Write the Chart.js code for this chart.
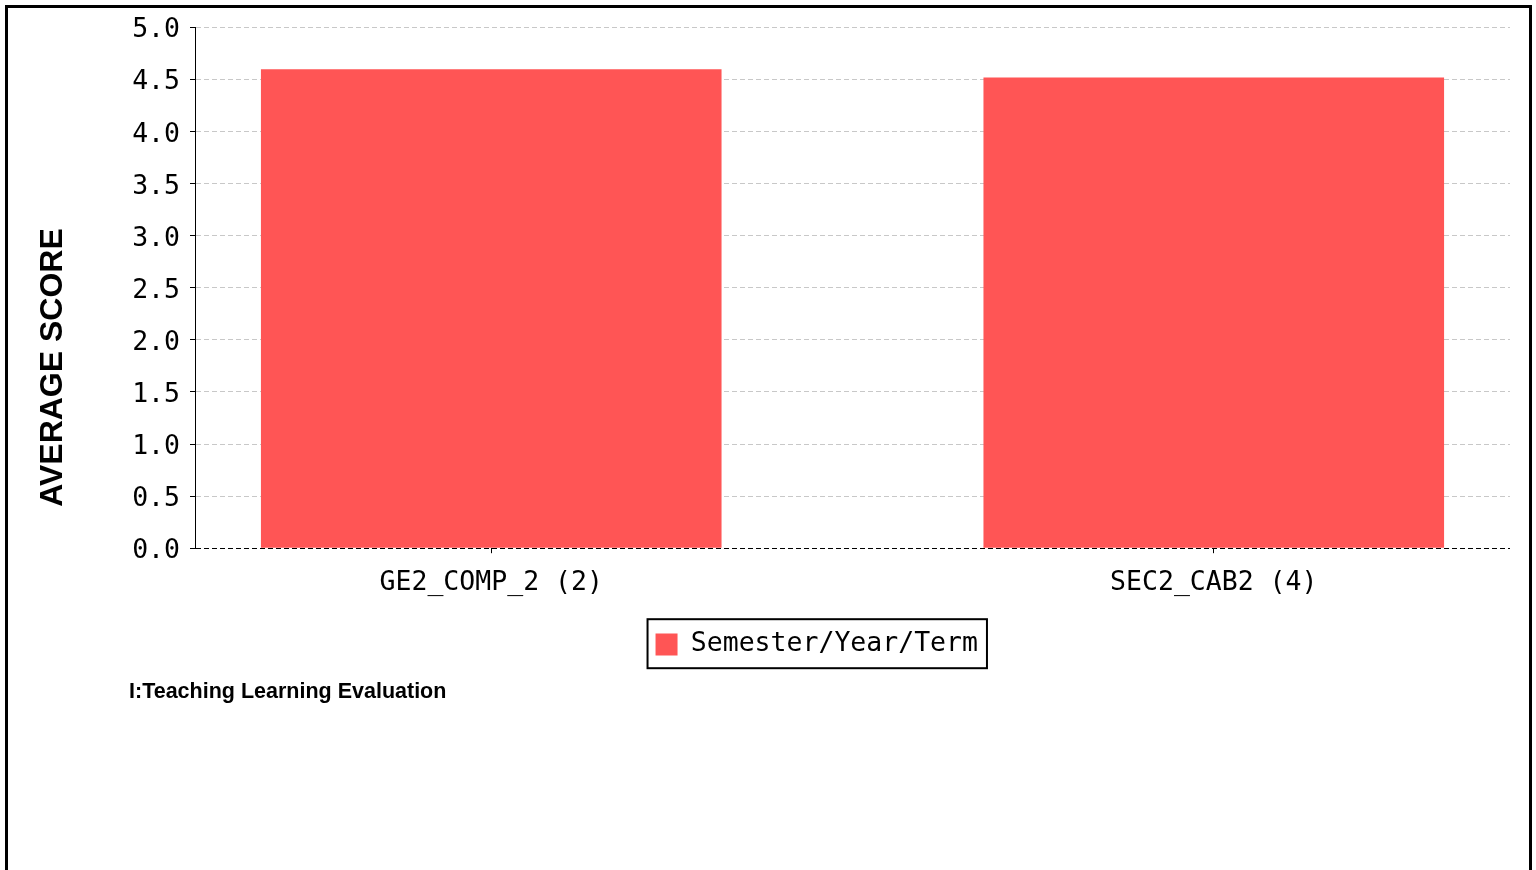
<!DOCTYPE html>
<html>
<head>
<meta charset="utf-8">
<script src="https://cdn.jsdelivr.net/npm/chart.js@4/dist/chart.umd.min.js"></script>
<style>
  html, body { margin: 0; padding: 0; background: #fff; }
  #frame { position: absolute; left: 5px; top: 5px; width: 1527px; height: 900px; box-sizing: border-box; border: 3px solid #000; background: #fff; }
  #wrap { position: absolute; left: 8px; top: 8px; width: 1520px; height: 700px; }
</style>
</head>
<body>
<div id="frame"></div>
<div id="wrap"><canvas id="c"></canvas></div>
<script>
const categories = ['GE2_COMP_2 (2)', 'SEC2_CAB2 (4)'];
const scores = [4.6, 4.52];
const seriesLabel = 'Semester/Year/Term';
const yTicks = [0, 0.5, 1.0, 1.5, 2.0, 2.5, 3.0, 3.5, 4.0, 4.5, 5.0];
const yAxisTitle = 'AVERAGE SCORE';
const chartTitle = 'I:Teaching Learning Evaluation';

const MONO = '"DejaVu Sans Mono", monospace';
const SANS = '"Liberation Sans", Arial, sans-serif';

const layoutTweaks = {
  id: 'layoutTweaks',
  afterLayout(chart) {
    const lg = chart.legend;
    if (lg) { lg.left = 116; lg.right = 1501.5; lg.width = lg.right - lg.left; }
    const tb = chart.titleBlock;
    if (tb) { tb.left = 121; }
  },
  afterDraw(chart) {
    const ctx = chart.ctx;
    const lg = chart.legend;
    if (lg && lg.legendHitBoxes && lg.legendHitBoxes.length) {
      const hb = lg.legendHitBoxes[0];
      ctx.save();
      ctx.strokeStyle = '#000';
      ctx.lineWidth = 2;
      ctx.strokeRect(hb.left - 8, lg.top, hb.width + 17, 49);
      ctx.restore();
    }
    // y-axis title
    ctx.save();
    ctx.translate(45, 359.5);
    ctx.rotate(-Math.PI / 2);
    ctx.font = 'bold 32px ' + SANS;
    ctx.fillStyle = '#000';
    ctx.textAlign = 'center';
    ctx.textBaseline = 'middle';
    ctx.fillText(yAxisTitle, 0, 0);
    ctx.restore();
  }
};

new Chart(document.getElementById('c'), {
  type: 'bar',
  data: {
    datasets: [{
      label: seriesLabel,
      data: categories.map((c, i) => ({ x: i, y: scores[i] })),
      backgroundColor: '#ff5555',
      borderWidth: 0,
      barPercentage: 0.6375,
      categoryPercentage: 1.0
    }]
  },
  options: {
    responsive: true,
    maintainAspectRatio: false,
    animation: false,
    layout: { padding: { top: 19.5, right: 18, bottom: 3.5, left: 0 } },
    plugins: {
      legend: {
        display: true,
        position: 'bottom',
        align: 'center',
        labels: {
          boxWidth: 22, boxHeight: 22, padding: 12,
          color: '#000',
          font: { family: MONO, size: 26.5 }
        }
      },
      title: {
        display: true,
        text: chartTitle,
        position: 'bottom',
        align: 'start',
        color: '#000',
        font: { family: SANS, size: 21.5, weight: 'bold' },
        padding: { top: 11, bottom: 0 }
      },
      tooltip: { enabled: false }
    },
    scales: {
      x: {
        type: 'linear',
        offset: false,
        min: -0.41,
        max: 1.41,
        afterBuildTicks(scale) { scale.ticks = categories.map((c, i) => ({ value: i })); },
        afterFit(scale) { scale.height = 71; },
        ticks: {
          callback: (v) => categories[v],
          color: '#000',
          font: { family: MONO, size: 26.5 },
          padding: 14,
          maxRotation: 0,
          autoSkip: false
        },
        grid: { display: true, offset: false, drawOnChartArea: false, drawTicks: true, tickLength: 5, tickColor: '#000' },
        border: { display: false }
      },
      y: {
        min: 0,
        max: 5,
        afterBuildTicks(scale) { scale.ticks = yTicks.map(v => ({ value: v })); },
        afterFit(scale) { scale.width = 187; scale.paddingTop = 0; scale.paddingBottom = 0; },
        ticks: {
          callback: (v) => v.toFixed(1),
          color: '#000',
          font: { family: MONO, size: 26.5 },
          padding: 10,
          labelOffset: 3
        },
        grid: {
          color: (ctx) => (ctx.tick && ctx.tick.value === 0 ? '#000' : '#c8c8c8'),
          lineWidth: 1,
          tickLength: 5,
          tickColor: '#000'
        },
        border: { display: true, color: '#000', width: 1, dash: [5, 3] }
      }
    }
  },
  plugins: [layoutTweaks]
});
</script>
</body>
</html>
